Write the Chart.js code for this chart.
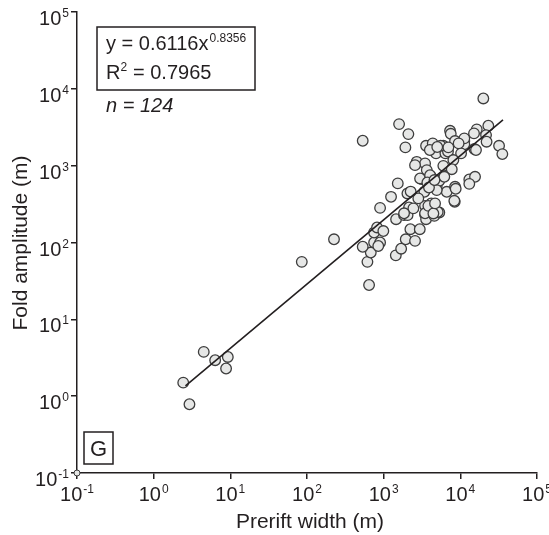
<!DOCTYPE html>
<html>
<head>
<meta charset="utf-8">
<script src="https://cdn.jsdelivr.net/npm/chart.js@4"></script>
<style>
  body { margin: 0; background: #fff; }
  canvas { display: block; }
</style>
</head>
<body>
<canvas id="myChart" width="549" height="535"></canvas>
<script>
// Prerift width (m) and fold amplitude (m)
const preriftWidth = [
  2.43, 2.93, 4.5, 6.34, 9.27, 8.8,
  85.5, 225, 533,
  645, 614, 679, 533, 750, 898, 850, 750, 820, 990, 898,
  1440, 1690, 1940, 2565, 2230, 2958, 1452, 1845, 2050, 2143, 3467, 3467, 3573, 4581, 5321, 4276, 8450,
  19950, 1589, 2100, 1920, 7345, 7500, 16370, 23170, 21640, 22000, 32000, 35300,
  3573, 4365, 6000, 8530, 11270, 11270, 15240, 16000, 10230, 4820, 6380, 6900, 8110, 6000, 7730,
  2700, 3467, 2565, 3650, 3140, 4150, 3830, 4920, 5320, 6180, 6650, 8530, 8700, 8350, 13090, 15550, 13090,
  3400, 2830, 2040, 2250, 1528, 1248, 4170, 5070, 2440, 1845, 3467,
  15070, 11270, 5530, 6980,
  2985, 4030, 3715, 4920, 3830, 4450, 4680,
  4000, 5000, 9500, 3900, 4600
];
const foldAmplitude = [
  1.5, 0.785, 3.77, 2.94, 3.24, 2.29,
  56, 110, 2110,
  28, 56, 74, 88, 100, 100, 90, 135, 157, 141, 282,
  68, 83, 110, 105, 149, 149, 201, 227, 227, 286, 300, 234, 201, 222, 246, 313, 339,
  7500, 3475, 2576, 1730, 2845, 2600, 2965, 3310, 2500, 2050, 1815, 1415,
  1815, 1950, 1815, 2090, 2090, 1900, 1645, 1600, 1447, 1447, 1447, 1530, 1183, 995, 900,
  1122, 1070, 1016, 875, 668, 716, 588, 542, 636, 716, 457, 531, 500, 349, 662, 716, 580,
  457, 375, 435, 460, 588, 393, 322, 250, 278, 240, 240,
  2630, 2265, 1815, 1730,
  682, 750, 605, 481, 300, 239, 323,
  1600, 1750, 1950, 520, 650
];
// point sitting on the axis corner
const cornerX = [0.1];
const cornerY = [0.1];

// power-law fit line end points
const fitX = [2.6, 36000];
const fitY = [1.36, 3950];

// decade ticks (exponents)
const xExponents = [-1, 0, 1, 2, 3, 4, 5];
const yExponents = [-1, 0, 1, 2, 3, 4, 5];

const INK = '#231f20';
const FONT = "'Liberation Sans', Arial, Helvetica, sans-serif";

const toPoints = (xs, ys) => xs.map((v, i) => ({ x: v, y: ys[i] }));

// draw "10" with a raised exponent
function drawPower(ctx, exp, px, baseY, align) {
  ctx.font = `20px ${FONT}`;
  const w1 = ctx.measureText('10').width;
  ctx.font = `12px ${FONT}`;
  const w2 = ctx.measureText(String(exp)).width;
  const total = w1 + w2 + 1;
  const x0 = align === 'center' ? px - total / 2 : px - total;
  ctx.font = `20px ${FONT}`;
  ctx.fillText('10', x0, baseY);
  ctx.font = `12px ${FONT}`;
  ctx.fillText(String(exp), x0 + w1 + 1, baseY - 8);
}

const axisText = {
  id: 'axisText',
  afterDraw(chart) {
    const { ctx, scales: { x, y } } = chart;
    ctx.save();
    ctx.fillStyle = INK;
    ctx.textAlign = 'left';
    ctx.textBaseline = 'alphabetic';

    xExponents.forEach((e) => {
      drawPower(ctx, e, x.getPixelForValue(Math.pow(10, e)), 501, 'center');
    });
    yExponents.forEach((e) => {
      drawPower(ctx, e, 69, y.getPixelForValue(Math.pow(10, e)) + 13, 'right');
    });

    // axis titles
    ctx.font = `21px ${FONT}`;
    ctx.textAlign = 'center';
    ctx.fillText('Prerift width (m)', (x.left + x.right) / 2 + 3, 528);
    ctx.save();
    ctx.translate(27, 243);
    ctx.rotate(-Math.PI / 2);
    ctx.fillText('Fold amplitude (m)', 0, 0);
    ctx.restore();

    // equation box
    ctx.textAlign = 'left';
    ctx.strokeStyle = INK;
    ctx.lineWidth = 1.5;
    ctx.strokeRect(97, 27, 158, 63);
    ctx.font = `20px ${FONT}`;
    const eq = 'y = 0.6116x';
    ctx.fillText(eq, 106, 50);
    const eqW = ctx.measureText(eq).width;
    ctx.font = `12px ${FONT}`;
    ctx.fillText('0.8356', 106 + eqW + 1, 42);
    ctx.font = `20px ${FONT}`;
    ctx.fillText('R', 106, 79);
    const rW = ctx.measureText('R').width;
    ctx.font = `12px ${FONT}`;
    ctx.fillText('2', 106 + rW, 71);
    ctx.font = `20px ${FONT}`;
    ctx.fillText(' = 0.7965', 106 + rW + 7, 79);
    ctx.font = `italic 20px ${FONT}`;
    ctx.fillText('n = 124', 106, 112);

    // panel letter
    ctx.font = `22px ${FONT}`;
    ctx.strokeRect(84, 432, 29, 32);
    ctx.textAlign = 'center';
    ctx.fillText('G', 98.5, 456);
    ctx.restore();
  }
};

const ctx = document.getElementById('myChart');
const myChart = new Chart(ctx, {
  type: 'scatter',
  data: {
    datasets: [
      {
        type: 'line',
        label: 'fit',
        data: toPoints(fitX, fitY),
        borderColor: INK,
        borderWidth: 1.6,
        pointRadius: 0,
        fill: false,
      },
      {
        label: 'folds',
        data: toPoints(preriftWidth, foldAmplitude),
        backgroundColor: '#e6e7e6',
        borderColor: '#3d3d3d',
        borderWidth: 1.3,
        pointRadius: 5.3,
        clip: false,
      },
      {
        label: 'corner',
        data: toPoints(cornerX, cornerY),
        backgroundColor: '#e6e7e6',
        borderColor: '#3d3d3d',
        borderWidth: 1,
        pointRadius: 3,
        clip: false,
      },
    ],
  },
  options: {
    responsive: false,
    animation: false,
    devicePixelRatio: 1,
    layout: { padding: { top: 12, right: 12, left: 0, bottom: 0 } },
    plugins: { legend: { display: false }, tooltip: { enabled: false } },
    scales: {
      x: {
        type: 'logarithmic',
        min: 0.1,
        max: 100000,
        border: { color: INK, width: 1.5 },
        grid: { drawOnChartArea: false, drawTicks: true, tickLength: 6, color: INK, lineWidth: 1.5 },
        ticks: { display: false },
        afterBuildTicks: (s) => { s.ticks = xExponents.map((e) => ({ value: Math.pow(10, e) })); },
        afterFit: (s) => { s.height = 62; },
      },
      y: {
        type: 'logarithmic',
        min: 0.1,
        max: 100000,
        border: { color: INK, width: 1.5 },
        grid: { drawOnChartArea: false, drawTicks: true, tickLength: 6, color: INK, lineWidth: 1.5 },
        ticks: { display: false },
        afterBuildTicks: (s) => { s.ticks = yExponents.map((e) => ({ value: Math.pow(10, e) })); },
        afterFit: (s) => { s.width = 77; },
      },
    },
  },
  plugins: [axisText],
});
</script>
</body>
</html>
